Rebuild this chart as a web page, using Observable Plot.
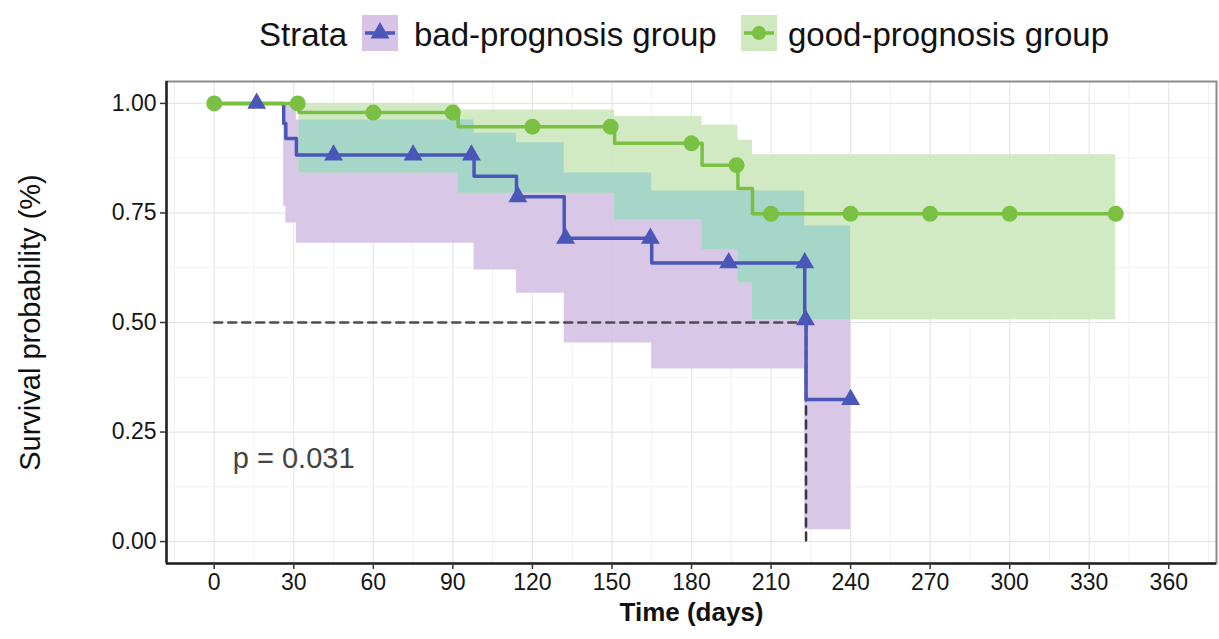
<!DOCTYPE html>
<html>
<head>
<meta charset="utf-8">
<script src="https://cdn.jsdelivr.net/npm/d3@7"></script>
<script src="https://cdn.jsdelivr.net/npm/@observablehq/plot@0.6"></script>
<style>
  body { margin: 0; background: #fff; font-family: "Liberation Sans", Arial, sans-serif; }
  #wrap { width: 1219px; }
  #legend, #chart { display: block; }
</style>
</head>
<body>
<div id="wrap"><div id="legend"></div><div id="chart"></div></div>
<script>
// ---------- data ----------
const groups = ["bad-prognosis group", "good-prognosis group"];
const legendTitle = "Strata";

// Kaplan–Meier step curves
const badTime  = [0, 26.2, 27, 31, 98, 114, 132, 165, 222.7, 223.2, 240];
const badSurv  = [1, 0.954, 0.920, 0.882, 0.834, 0.787, 0.692, 0.636, 0.506, 0.324, 0.324];
const goodTime = [0, 32, 92, 151, 184, 197.5, 203, 340];
const goodSurv = [1, 0.979, 0.947, 0.909, 0.859, 0.806, 0.748, 0.748];

// confidence bands (step)
const badBandTime  = [26.2, 27, 31, 98, 114, 132, 165, 222.7, 240];
const badBandLow   = [0.765, 0.727, 0.681, 0.620, 0.567, 0.453, 0.394, 0.027, 0.027];
const badBandHigh  = [1, 1, 0.962, 0.932, 0.910, 0.841, 0.800, 0.720, 0.720];
const goodBandTime = [32, 92, 151, 184, 197.5, 203, 340];
const goodBandLow  = [0.841, 0.795, 0.734, 0.666, 0.590, 0.506, 0.506];
const goodBandHigh = [1, 0.985, 0.970, 0.951, 0.916, 0.883, 0.883];

// censor marks
const badCensorTime  = [16, 45, 75, 97, 114.5, 132.5, 164.5, 194, 222.7, 223, 240];
const badCensorSurv  = [1, 0.882, 0.882, 0.882, 0.787, 0.692, 0.692, 0.636, 0.636, 0.506, 0.324];
const goodCensorTime = [0, 31.5, 60, 90, 120, 149.5, 180, 197, 210, 240, 270, 300, 340];
const goodCensorSurv = [1, 1, 0.979, 0.979, 0.947, 0.947, 0.909, 0.859, 0.748, 0.748, 0.748, 0.748, 0.748];

// axes
const xTicks = [0, 30, 60, 90, 120, 150, 180, 210, 240, 270, 300, 330, 360];
const xMinorTicks = [-15, 15, 45, 75, 105, 135, 165, 195, 225, 255, 285, 315, 345, 375];
const yTicks = [0, 0.25, 0.5, 0.75, 1];
const yMinorTicks = [0.125, 0.375, 0.625, 0.875];
const xDomain = [-18, 378];
const yDomain = [-0.05, 1.05];
const xTitle = "Time (days)";
const yTitle = "Survival probability (%)";
const medianLevel = 0.5;
const annotations = [{x: 7, y: 0.19, text: "p = 0.031"}];

// ---------- styles ----------
const BLUE = "#4a56b8", GREEN = "#7ac143";
const PURPLE_FILL = "#d6c3e5", GREEN_FILL = "#cfe8bf", TEAL_FILL = "#a2d5c8";
const FONT = "Liberation Sans, Arial, sans-serif";

// ---------- build tables ----------
const zipRows = (t, a, b) => t.map((d, i) => ({t: d, lo: a[i], hi: b[i]}));
const curveRows = (t, s) => t.map((d, i) => ({t: d, s: s[i]}));
const badBand = zipRows(badBandTime, badBandLow, badBandHigh);
const goodBand = zipRows(goodBandTime, goodBandLow, goodBandHigh);
const badCurve = curveRows(badTime, badSurv);
const goodCurve = curveRows(goodTime, goodSurv);
const badCensor = curveRows(badCensorTime, badCensorSurv);
const goodCensor = curveRows(goodCensorTime, goodCensorSurv);

function stepAt(rows, t) {
  let r = rows[0];
  for (const row of rows) if (row.t <= t) r = row;
  return r;
}
const ovStart = Math.max(badBandTime[0], goodBandTime[0]);
const ovEnd = Math.min(badBandTime[badBandTime.length - 1], goodBandTime[goodBandTime.length - 1]);
const ovTimes = Array.from(new Set([...badBandTime, ...goodBandTime]))
  .filter(t => t >= ovStart && t <= ovEnd).sort((a, b) => a - b);
const overlap = ovTimes.map(t => {
  const b = stepAt(badBand, t), g = stepAt(goodBand, t);
  const lo = Math.max(b.lo, g.lo);
  const hi = Math.max(lo, Math.min(b.hi, g.hi));
  return {t, lo, hi};
});

const medianTime = badCurve.find(d => d.s <= medianLevel).t;
const medianH = [{t: 0, s: medianLevel}, {t: medianTime, s: medianLevel}];
const medianV = [{t: medianTime, s: medianLevel}, {t: medianTime, s: 0}];

// ---------- legend ----------
const leg = d3.select("#legend").append("svg").attr("width", 1219).attr("height", 65)
  .style("font-family", FONT);
leg.append("text").attr("x", 259).attr("y", 46).attr("font-size", 33).attr("fill", "#111").text(legendTitle);
const keys = [
  {x: 362, tx: 414, fill: PURPLE_FILL, color: BLUE, sym: d3.symbolTriangle, size: Math.PI * 49, label: groups[0]},
  {x: 741, tx: 788, fill: GREEN_FILL, color: GREEN, sym: d3.symbolCircle, size: Math.PI * 49, label: groups[1]}
];
for (const k of keys) {
  leg.append("rect").attr("x", k.x).attr("y", 15).attr("width", 36).attr("height", 36).attr("fill", k.fill);
  leg.append("line").attr("x1", k.x + 3).attr("x2", k.x + 33).attr("y1", 33).attr("y2", 33)
    .attr("stroke", k.color).attr("stroke-width", 3.5);
  leg.append("path").attr("transform", `translate(${k.x + 18},33)`)
    .attr("d", d3.symbol(k.sym, k.size)()).attr("fill", k.color);
  leg.append("text").attr("x", k.tx).attr("y", 46).attr("font-size", 33).attr("fill", "#111").text(k.label);
}

// ---------- chart ----------
const chart = Plot.plot({
  width: 1219,
  height: 574,
  marginTop: 12,
  marginBottom: 80,
  marginLeft: 166,
  marginRight: 3,
  style: {fontFamily: FONT, background: "white", overflow: "visible"},
  x: {domain: xDomain},
  y: {domain: yDomain},
  marks: [
    Plot.gridX({ticks: xMinorTicks, stroke: "#f1f1f1", strokeOpacity: 1, strokeWidth: 1}),
    Plot.gridY({ticks: yMinorTicks, stroke: "#f1f1f1", strokeOpacity: 1, strokeWidth: 1}),
    Plot.gridX({ticks: xTicks, stroke: "#e6e6e6", strokeOpacity: 1, strokeWidth: 1.2}),
    Plot.gridY({ticks: yTicks, stroke: "#e6e6e6", strokeOpacity: 1, strokeWidth: 1.2}),
    Plot.areaY(badBand, {x: "t", y1: "lo", y2: "hi", curve: "step-after", fill: PURPLE_FILL, fillOpacity: 0.93}),
    Plot.areaY(goodBand, {x: "t", y1: "lo", y2: "hi", curve: "step-after", fill: GREEN_FILL, fillOpacity: 0.93}),
    Plot.areaY(overlap, {x: "t", y1: "lo", y2: "hi", curve: "step-after", fill: TEAL_FILL, fillOpacity: 0.95}),
    Plot.line(medianH, {x: "t", y: "s", stroke: "#4d4d4d", strokeWidth: 2.5, strokeDasharray: "8,6"}),
    Plot.line(medianV, {x: "t", y: "s", stroke: "#3a3a3a", strokeWidth: 2.5, strokeDasharray: "8,6"}),
    Plot.line(badCurve, {x: "t", y: "s", curve: "step-after", stroke: BLUE, strokeWidth: 3.5}),
    Plot.line(goodCurve, {x: "t", y: "s", curve: "step-after", stroke: GREEN, strokeWidth: 3.5}),
    Plot.dot(goodCensor, {x: "t", y: "s", r: 8, fill: GREEN, stroke: "none"}),
    Plot.dot(badCensor, {x: "t", y: "s", r: 7, symbol: "triangle", fill: BLUE, stroke: "none"}),
    Plot.frame({stroke: "#8c8c8c", strokeWidth: 2}),
    Plot.ruleX([xDomain[0]], {stroke: "#222", strokeWidth: 2.5}),
    Plot.ruleY([yDomain[0]], {stroke: "#222", strokeWidth: 2.5}),
    Plot.axisX({ticks: xTicks, tickSize: 6, tickPadding: 4, fontSize: 23, label: null,
      stroke: "#333", strokeWidth: 1.5, fill: "#151515"}),
    Plot.axisY({ticks: yTicks, tickFormat: d3.format(".2f"), tickSize: 6, tickPadding: 4, fontSize: 23,
      label: null, stroke: "#333", strokeWidth: 1.5, fill: "#151515"}),
    Plot.text([xTitle], {frameAnchor: "bottom", dy: 49, text: d => d, fontSize: 26, fontWeight: "bold",
      fill: "#111", lineAnchor: "middle"}),
    Plot.text([yTitle], {frameAnchor: "left", dx: -136, rotate: -90, text: d => d, fontSize: 29,
      fill: "#111", lineAnchor: "middle", textAnchor: "middle"}),
    Plot.text(annotations, {x: "x", y: "y", text: "text", textAnchor: "start", fontSize: 29,
      fill: "#444", lineAnchor: "middle"})
  ]
});
document.getElementById("chart").appendChild(chart);
</script>
</body>
</html>
